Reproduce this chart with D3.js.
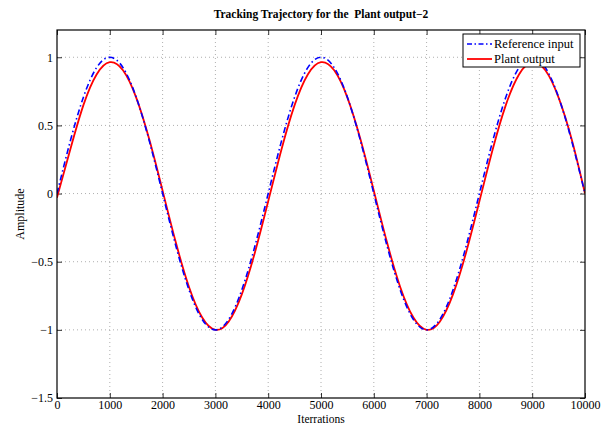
<!DOCTYPE html>
<html>
<head>
<meta charset="utf-8">
<script src="https://cdn.jsdelivr.net/npm/d3@7"></script>
<style>
  html, body { margin: 0; padding: 0; background: #fff; }
  svg { display: block; font-family: "Liberation Serif", "Times New Roman", serif; }
</style>
</head>
<body>
<svg id="chart" width="610" height="427"></svg>
<script>
// Sample positions (iterations), every 250 steps
const iterations = d3.range(0, 10001, 250);

// Reference input samples
const referenceInput = [
  0, 0.383, 0.707, 0.924, 1, 0.924, 0.707, 0.383,
  0, -0.383, -0.707, -0.924, -1, -0.924, -0.707, -0.383,
  0, 0.383, 0.707, 0.924, 1, 0.924, 0.707, 0.383,
  0, -0.383, -0.707, -0.924, -1, -0.924, -0.707, -0.383,
  0, 0.383, 0.707, 0.924, 1, 0.924, 0.707, 0.383,
  0
];

// Plant output samples
const plantOutput = [
  -0.03, 0.322, 0.649, 0.874, 0.964, 0.904, 0.704, 0.394,
  0.021, -0.358, -0.685, -0.910, -1.0, -0.940, -0.740, -0.430,
  -0.057, 0.322, 0.649, 0.874, 0.964, 0.904, 0.704, 0.394,
  0.021, -0.358, -0.685, -0.910, -1.0, -0.940, -0.740, -0.430,
  -0.057, 0.322, 0.649, 0.874, 0.964, 0.904, 0.704, 0.394,
  0.0
];

const xTicks = [0, 1000, 2000, 3000, 4000, 5000, 6000, 7000, 8000, 9000, 10000];
const yTicks = [-1.5, -1, -0.5, 0, 0.5, 1];

const titleText = "Tracking Trajectory for the  Plant output\u22122";
const xLabel = "Iterrations";
const yLabel = "Amplitude";
const legendLabels = ["Reference input", "Plant output"];

const svg = d3.select("#chart");
const plot = { left: 57, right: 585, top: 30, bottom: 398 };

const x = d3.scaleLinear().domain([0, 10000]).range([plot.left, plot.right]);
const y = d3.scaleLinear().domain([-1.5, 1.2]).range([plot.bottom, plot.top]);

const fmt = d => String(d).replace("-", "\u2212");

// Grid
const grid = svg.append("g");
grid.selectAll("line.vx").data(xTicks.slice(1, -1)).enter().append("line")
  .attr("x1", d => x(d)).attr("x2", d => x(d))
  .attr("y1", plot.top).attr("y2", plot.bottom)
  .attr("stroke", "#9a9a9a").attr("stroke-width", 0.8).attr("stroke-dasharray", "1,3");
grid.selectAll("line.hy").data(yTicks.slice(1)).enter().append("line")
  .attr("y1", d => y(d)).attr("y2", d => y(d))
  .attr("x1", plot.left).attr("x2", plot.right)
  .attr("stroke", "#9a9a9a").attr("stroke-width", 0.8).attr("stroke-dasharray", "1,3");

// Axes with inward ticks
const tickLen = 5;
const xAxisB = d3.axisBottom(x).tickValues(xTicks).tickSize(-tickLen).tickPadding(2).tickFormat(d => d);
const xAxisT = d3.axisTop(x).tickValues(xTicks).tickSize(-tickLen).tickFormat("");
const yAxisL = d3.axisLeft(y).tickValues(yTicks).tickSize(-tickLen).tickPadding(4).tickFormat(fmt);
const yAxisR = d3.axisRight(y).tickValues(yTicks).tickSize(-tickLen).tickFormat("");

function styleAxis(g) {
  g.select(".domain").remove();
  g.selectAll(".tick line").attr("stroke", "#000").attr("stroke-width", 0.8);
  g.selectAll("text").attr("font-family", "Liberation Serif, Times New Roman, serif")
    .attr("font-size", 12).attr("fill", "#000");
}

svg.append("g").attr("transform", `translate(0,${plot.bottom})`).call(xAxisB).call(styleAxis);
svg.append("g").attr("transform", `translate(0,${plot.top})`).call(xAxisT).call(styleAxis);
svg.append("g").attr("transform", `translate(${plot.left},0)`).call(yAxisL).call(styleAxis);
svg.append("g").attr("transform", `translate(${plot.right},0)`).call(yAxisR).call(styleAxis);

// Curves
svg.append("defs").append("clipPath").attr("id", "plotClip")
  .append("rect").attr("x", plot.left).attr("y", plot.top)
  .attr("width", plot.right - plot.left).attr("height", plot.bottom - plot.top);

const line = d3.line().x(d => x(d[0])).y(d => y(d[1])).curve(d3.curveNatural);

const curves = svg.append("g").attr("clip-path", "url(#plotClip)");
curves.append("path")
  .datum(iterations.map((it, i) => [it, plantOutput[i]]))
  .attr("d", line).attr("fill", "none").attr("stroke", "#ff0000").attr("stroke-width", 1.8);
curves.append("path")
  .datum(iterations.map((it, i) => [it, referenceInput[i]]))
  .attr("d", line).attr("fill", "none").attr("stroke", "#0000ff").attr("stroke-width", 1.6)
  .attr("stroke-dasharray", "6,3,1.5,3");

// Box
svg.append("rect").attr("x", plot.left).attr("y", plot.top)
  .attr("width", plot.right - plot.left).attr("height", plot.bottom - plot.top)
  .attr("fill", "none").attr("stroke", "#000").attr("stroke-width", 1.2);

// Title and axis labels
svg.append("text").attr("x", 321).attr("y", 18).attr("text-anchor", "middle")
  .attr("font-size", 11.5).attr("font-weight", "bold").style("white-space", "pre")
  .text(titleText);
svg.append("text").attr("x", 321).attr("y", 423).attr("text-anchor", "middle")
  .attr("font-size", 11.5).text(xLabel);
svg.append("text").attr("transform", `translate(24,${(plot.top + plot.bottom) / 2}) rotate(-90)`)
  .attr("text-anchor", "middle").attr("font-size", 12).text(yLabel);

// Legend
const legend = svg.append("g");
legend.append("rect").attr("x", 463).attr("y", 34).attr("width", 117).attr("height", 33)
  .attr("fill", "#fff").attr("stroke", "#000").attr("stroke-width", 1);
const legendStyles = [
  { color: "#0000ff", dash: "5,2.5,1.5,2.5", w: 1.6 },
  { color: "#ff0000", dash: null, w: 1.8 }
];
legendLabels.forEach((lab, i) => {
  const yy = 44 + i * 15;
  legend.append("line").attr("x1", 467).attr("x2", 492).attr("y1", yy).attr("y2", yy)
    .attr("stroke", legendStyles[i].color).attr("stroke-width", legendStyles[i].w)
    .attr("stroke-dasharray", legendStyles[i].dash);
  legend.append("text").attr("x", 494).attr("y", yy + 4).attr("font-size", 12.5).text(lab);
});
</script>
</body>
</html>
